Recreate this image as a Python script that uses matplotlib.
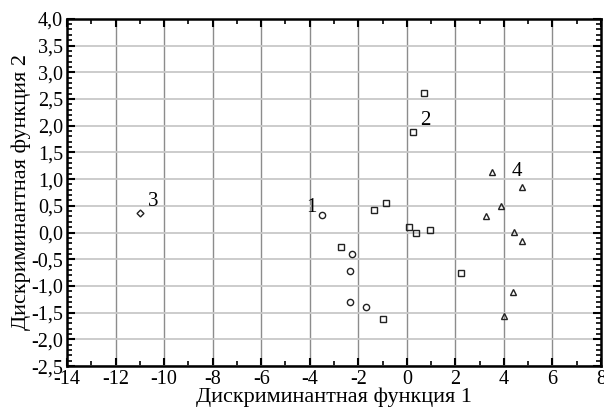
import matplotlib
matplotlib.use("Agg")
import matplotlib.pyplot as plt
from matplotlib.ticker import MultipleLocator, FuncFormatter

plt.rcParams["font.family"] = ["Liberation Serif", "DejaVu Serif"]

# group 1 - circles
g1_x = [-3.49, -2.26, -2.35, -2.34, -1.68]
g1_y = [0.32, -0.41, -0.72, -1.30, -1.39]
# group 2 - squares
g2_x = [0.71, 0.24, -1.34, -0.87, 0.10, 0.38, 0.96, -2.71, 2.25, -0.98]
g2_y = [2.61, 1.89, 0.43, 0.55, 0.11, 0.00, 0.05, -0.27, -0.76, -1.61]
# group 3 - diamond
g3_x = [-10.98]
g3_y = [0.36]
# group 4 - triangles
g4_x = [3.52, 4.76, 3.87, 3.26, 4.43, 4.76, 4.39, 4.02]
g4_y = [1.14, 0.86, 0.50, 0.30, 0.01, -0.16, -1.11, -1.56]

labels = ["1", "2", "3", "4"]
label_x = [-3.92, 0.76, -10.45, 4.55]
label_y = [0.46, 2.09, 0.58, 1.14]

fig = plt.figure(figsize=(6.04, 4.09), dpi=100)
ax = fig.add_axes([0.111, 0.105, 0.884, 0.849])

ax.set_xlim(-14, 8)
ax.set_ylim(-2.5, 4.0)

ax.xaxis.set_major_locator(MultipleLocator(2))
ax.xaxis.set_minor_locator(MultipleLocator(1))
ax.yaxis.set_major_locator(MultipleLocator(0.5))
ax.yaxis.set_minor_locator(MultipleLocator(0.1))
ax.yaxis.set_major_formatter(FuncFormatter(lambda v, p: f"{v:.1f}".replace(".", ",").replace("-", "-")))
ax.xaxis.set_major_formatter(FuncFormatter(lambda v, p: f"{v:.0f}"))

ax.grid(axis="x", which="major", color="#8c8c8c", linewidth=1.0)
ax.grid(axis="y", which="major", color="#c8c8c8", linewidth=1.3)
ax.set_axisbelow(True)

ax.tick_params(which="both", direction="in", top=True, right=True,
               labelsize=14.5, width=1.5, colors="black")
ax.tick_params(which="major", length=6)
ax.tick_params(which="minor", length=3.5, width=1.2)
ax.tick_params(axis="x", pad=3)
ax.tick_params(axis="y", pad=3)
for s in ax.spines.values():
    s.set_linewidth(1.8)

mk = dict(linestyle="none", markerfacecolor="none", markeredgecolor="#222222",
          markeredgewidth=1.0)
ax.plot(g1_x, g1_y, marker="o", markersize=4.5, **mk)
ax.plot(g2_x, g2_y, marker="s", markersize=4.5, **mk)
ax.plot(g3_x, g3_y, marker="D", markersize=3.5, **mk)
ax.plot(g4_x, g4_y, marker="^", markersize=4.5, **mk)

for t, lx, ly in zip(labels, label_x, label_y):
    ax.text(lx, ly, t, fontsize=15, ha="center", va="center")

ax.set_xlabel("Дискриминантная функция 1", fontsize=16, labelpad=-1)
ax.set_ylabel("Дискриминантная функция 2", fontsize=16, labelpad=0)

fig.savefig("out.png", dpi=100)
